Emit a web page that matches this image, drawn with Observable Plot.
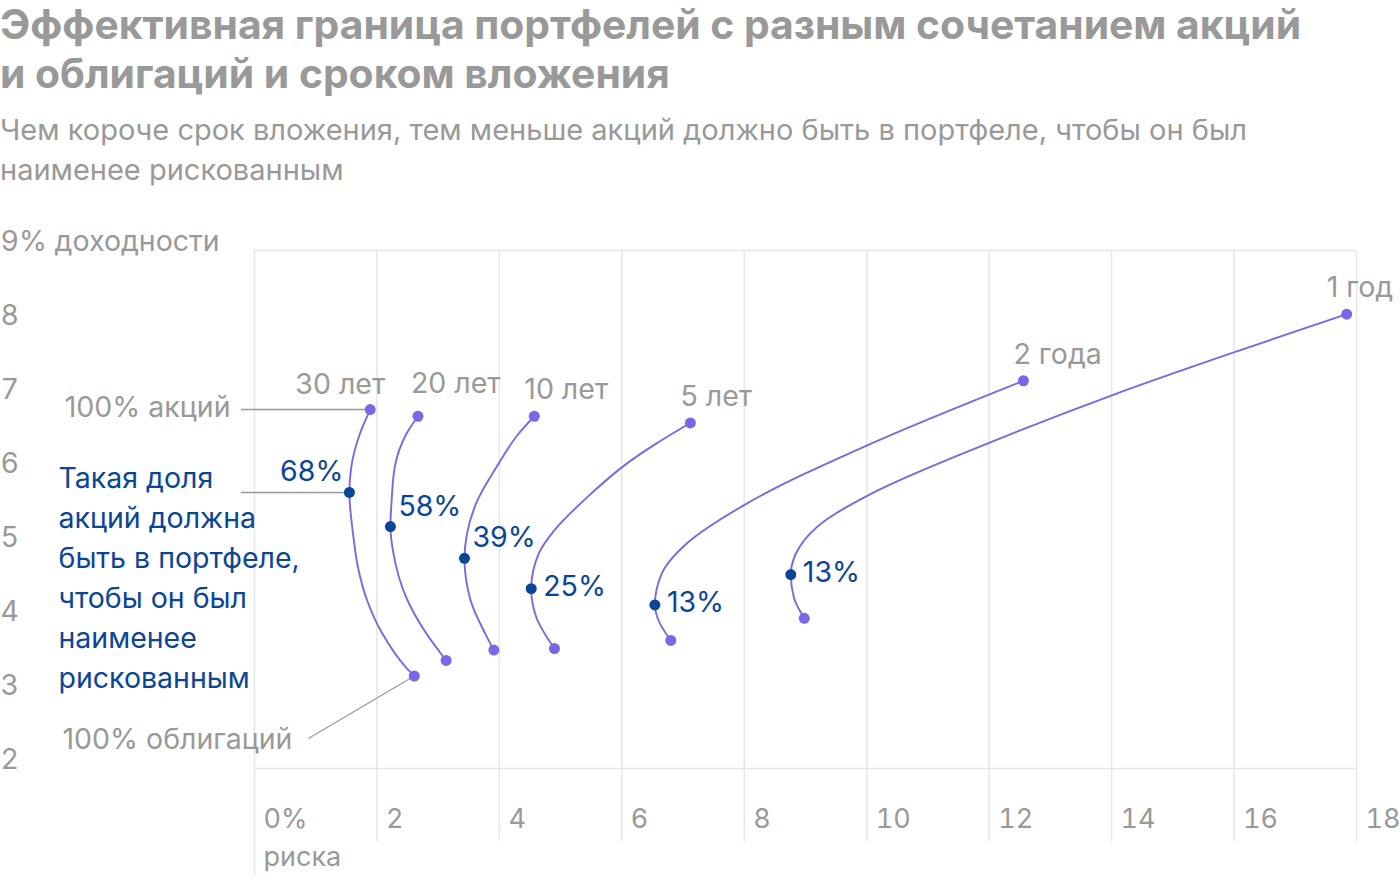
<!DOCTYPE html>
<html><head><meta charset="utf-8">
<script src="https://cdn.jsdelivr.net/npm/d3@7"></script>
<script src="https://cdn.jsdelivr.net/npm/@observablehq/plot@0.6"></script>
<style>
body{margin:0;background:#fff;width:1400px;height:880px;overflow:hidden;font-family:Inter,"Noto Sans",sans-serif;}
#title{position:absolute;left:0;top:0;margin:0;font-size:40.8px;font-weight:700;line-height:49px;color:#999;white-space:nowrap;}
#subtitle{position:absolute;left:0;top:110px;margin:0;font-size:29px;font-weight:400;line-height:40px;color:#999;white-space:nowrap;}
#chart{position:absolute;left:0;top:200px;}
</style></head>
<body>
<div id="title">Эффективная граница портфелей с разным сочетанием акций<br>и облигаций и сроком вложения</div>
<div id="subtitle">Чем короче срок вложения, тем меньше акций должно быть в портфеле, чтобы он был<br>наименее рискованным</div>
<div id="chart"></div>
<script>
// ---- data ----
const horizons = ["30 лет", "20 лет", "10 лет", "5 лет", "2 года", "1 год"];
// risk (std, %) and return (%) along each efficient frontier, from 100% stocks to 100% bonds
const risk30 = [1.89, 1.72, 1.58, 1.55, 1.61, 1.69, 1.84, 2.09, 2.47, 2.61];
const ret30  = [6.85, 6.52, 6.07, 5.73, 5.17, 4.72, 4.27, 3.82, 3.37, 3.25];
const risk20 = [2.67, 2.48, 2.29, 2.24, 2.22, 2.26, 2.50, 2.81, 3.13];
const ret20  = [6.76, 6.52, 6.07, 5.62, 5.27, 4.95, 4.27, 3.82, 3.46];
const risk10 = [4.57, 4.31, 3.95, 3.64, 3.47, 3.43, 3.53, 3.77, 3.91];
const ret10  = [6.76, 6.52, 6.07, 5.62, 5.17, 4.84, 4.27, 3.82, 3.60];
const risk5  = [7.12, 6.56, 6.08, 5.44, 4.90, 4.64, 4.52, 4.60, 4.90];
const ret5   = [6.67, 6.39, 6.12, 5.67, 5.22, 4.90, 4.43, 4.05, 3.62];
const risk2  = [12.56, 10.07, 8.04, 7.06, 6.65, 6.54, 6.60, 6.80];
const ret2   = [7.24, 6.39, 5.58, 5.04, 4.63, 4.21, 4.00, 3.73];
const risk1  = [17.84, 16.02, 14.06, 12.03, 10.07, 9.32, 8.90, 8.76, 8.81, 8.98];
const ret1   = [8.14, 7.63, 7.06, 6.41, 5.71, 5.35, 4.99, 4.62, 4.31, 4.03];
// minimum-risk portfolios
const minRisk = [1.55, 2.22, 3.43, 4.52, 6.54, 8.76];
const minRet  = [5.73, 5.27, 4.84, 4.43, 4.21, 4.62];
const minShare = ["68%", "58%", "39%", "25%", "13%", "13%"];
// axes
const xTicks = [0, 2, 4, 6, 8, 10, 12, 14, 16, 18];
const xTickLabels = ["0%\nриска", "2", "4", "6", "8", "10", "12", "14", "16", "18"];
const yTicks = [9, 8, 7, 6, 5, 4, 3, 2];
const yTickLabels = ["9% доходности", "8", "7", "6", "5", "4", "3", "2"];
const noteStocks = "100% акций";
const noteBonds = "100% облигаций";
const noteMin = "Такая доля\nакций должна\nбыть в портфеле,\nчтобы он был\nнаименее\nрискованным";

// ---- build tables ----
const riskSets = [risk30, risk20, risk10, risk5, risk2, risk1];
const retSets = [ret30, ret20, ret10, ret5, ret2, ret1];
const curves = horizons.map((h, k) => ({horizon: h, risk: riskSets[k], ret: retSets[k]}));
// points ordered from 100% bonds (low return) up to 100% stocks
const pts = curves.flatMap(c => c.risk.map((r, i) => ({horizon: c.horizon, risk: r, ret: c.ret[i]})).reverse());
const tops = curves.map(c => ({horizon: c.horizon, risk: c.risk[0], ret: c.ret[0]}));
const bottoms = curves.map(c => ({horizon: c.horizon, risk: c.risk[c.risk.length - 1], ret: c.ret[c.ret.length - 1]}));
const mins = minRisk.map((r, i) => ({risk: r, ret: minRet[i], share: minShare[i]}));

const gray = "#999999", grid = "#e6e6e6", purple = "#7b66e6", navy = "#0a4596";
const fs = 28.5;

const plot = Plot.plot({
  width: 1400, height: 680,
  marginLeft: 254, marginRight: 44, marginTop: 50, marginBottom: 112,
  style: {fontFamily: "Inter, 'Noto Sans', sans-serif", fontSize: fs + "px", background: "#fff", overflow: "visible"},
  x: {domain: [0, 18]},
  y: {domain: [2, 9]},
  marks: [
    Plot.ruleX(xTicks.slice(1), {stroke: grid, strokeWidth: 1.5, insetBottom: -73}),
    Plot.ruleX(xTicks.slice(0, 1), {stroke: grid, strokeWidth: 1.5, insetBottom: -107}),
    Plot.ruleY([yTicks[0], yTicks[yTicks.length - 1]], {stroke: grid, strokeWidth: 1.5}),
    Plot.axisX(xTicks, {tickSize: 0, tickPadding: 0, textAnchor: "start", dx: 9, dy: 33, lineHeight: 1.4,
      fill: gray, fontSize: 27, tickFormat: d => xTickLabels[xTicks.indexOf(d)], label: null}),
    Plot.axisY(yTicks, {tickSize: 0, tickPadding: 0, textAnchor: "start", lineAnchor: "bottom", dx: -254,
      fill: gray, fontSize: fs, tickFormat: d => yTickLabels[yTicks.indexOf(d)], label: null}),
    // leaders
    Plot.ruleY(tops.slice(0, 1), {y: "ret", x1: () => xTicks[0], x2: "risk", insetLeft: -13, stroke: gray, strokeWidth: 1.5}),
    Plot.ruleY(mins.slice(0, 1), {y: "ret", x1: () => xTicks[0], x2: "risk", insetLeft: -13, stroke: gray, strokeWidth: 1.5}),
    Plot.link(bottoms.slice(0, 1), {x1: "risk", y1: "ret", x2: () => 0.88, y2: () => 2.405, stroke: gray, strokeWidth: 1.2}),
    // curves
    Plot.line(pts, {x: "risk", y: "ret", z: "horizon", curve: "monotone-y", stroke: purple, strokeWidth: 1.9}),
    Plot.dot(tops.concat(bottoms), {x: "risk", y: "ret", r: 5.5, fill: purple}),
    Plot.dot(mins, {x: "risk", y: "ret", r: 5.5, fill: navy}),
    // horizon labels
    Plot.text(tops.slice(0, 1), {x: "risk", y: "ret", text: "horizon", textAnchor: "end", lineAnchor: "bottom", dx: 15, dy: -16, fill: gray, fontSize: fs}),
    Plot.text(tops.slice(1, 2), {x: "risk", y: "ret", text: "horizon", textAnchor: "start", lineAnchor: "bottom", dx: -7, dy: -23, fill: gray, fontSize: fs}),
    Plot.text(tops.slice(2, 5), {x: "risk", y: "ret", text: "horizon", textAnchor: "start", lineAnchor: "bottom", dx: -10, dy: -17, fill: gray, fontSize: fs}),
    Plot.text(tops.slice(5), {x: "risk", y: "ret", text: "horizon", textAnchor: "start", lineAnchor: "bottom", dx: -20, dy: -17, fill: gray, fontSize: fs}),
    // share labels
    Plot.text(mins.slice(0, 1), {x: "risk", y: "ret", text: "share", textAnchor: "end", dx: -6, dy: -21, fill: navy, fontSize: fs}),
    Plot.text(mins.slice(1, 3), {x: "risk", y: "ret", text: "share", textAnchor: "start", dx: 8, dy: -20, fill: navy, fontSize: fs}),
    Plot.text(mins.slice(3), {x: "risk", y: "ret", text: "share", textAnchor: "start", dx: 12, dy: -2, fill: navy, fontSize: fs}),
    // notes
    Plot.text(tops.slice(0, 1), {y: "ret", text: () => noteStocks, frameAnchor: "left", textAnchor: "end", dx: -24, dy: -2, fill: gray, fontSize: fs}),
    Plot.text([noteBonds], {text: d => d, frameAnchor: "bottom-left", textAnchor: "start", dx: -192, dy: -20, fill: gray, fontSize: fs}),
    Plot.text([noteMin], {text: d => d, frameAnchor: "left", textAnchor: "start", dx: -196, dy: 66, lineHeight: 40 / fs, fill: navy, fontSize: fs})
  ]
});
document.getElementById("chart").appendChild(plot);
</script>
</body></html>
